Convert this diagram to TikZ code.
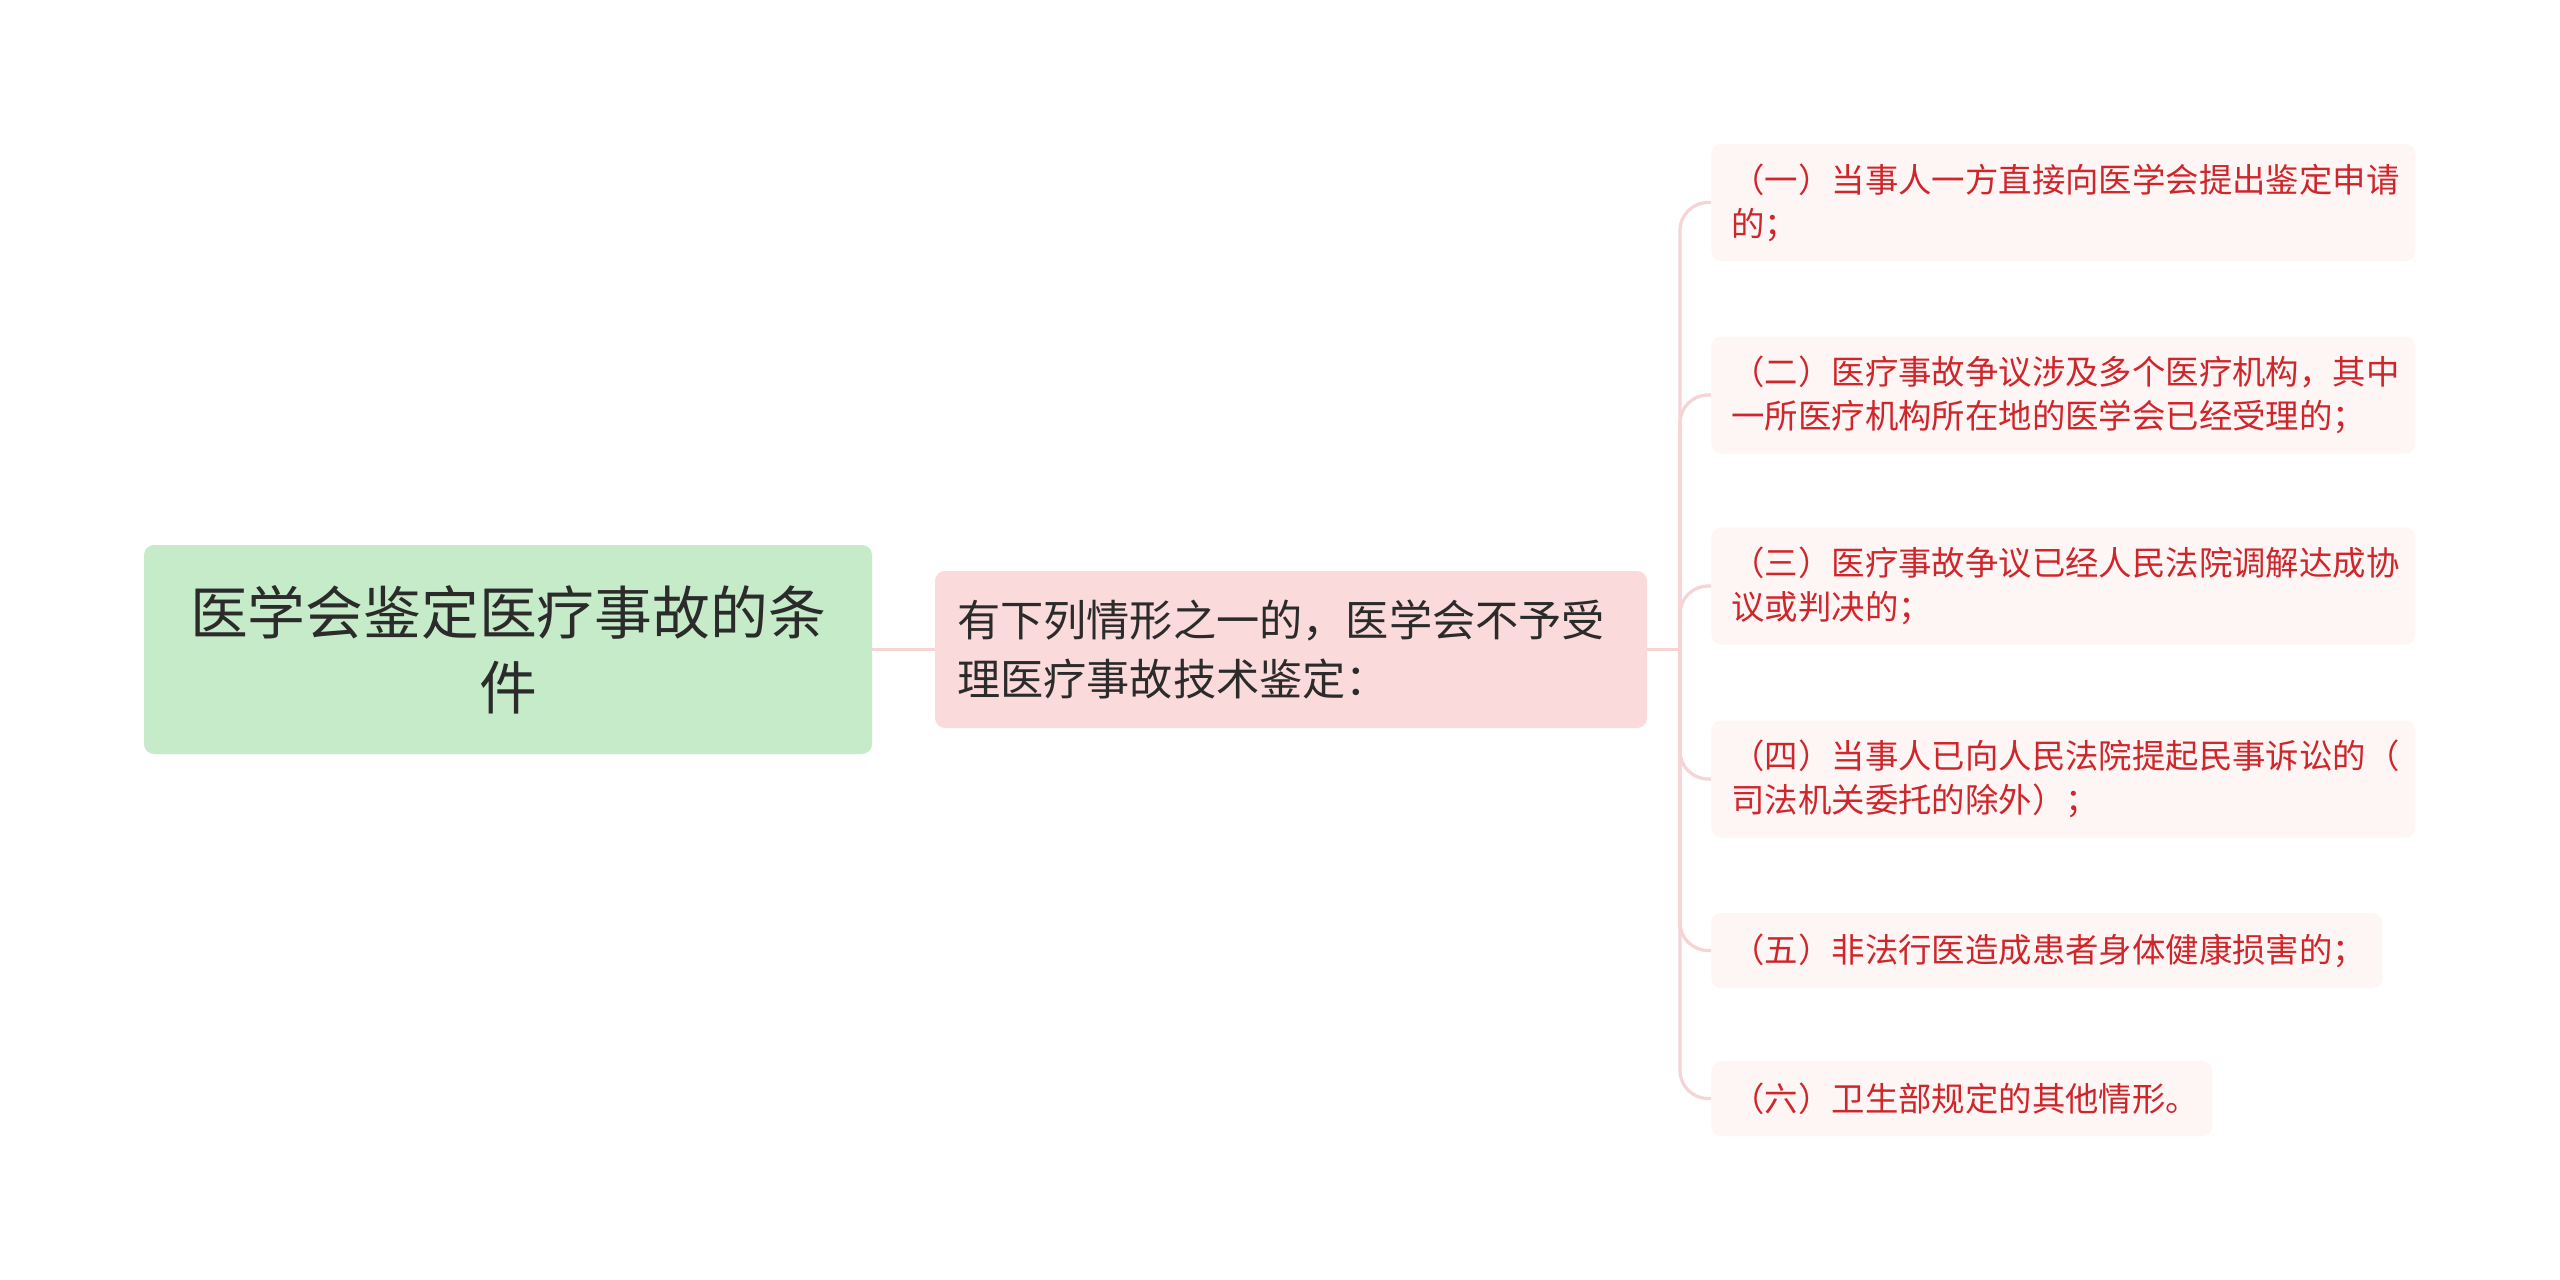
\documentclass[tikz,border=0pt]{standalone}
\usepackage{fontspec}
\newfontfamily\cjk{Noto Sans CJK SC}
\definecolor{rootfill}{HTML}{C6EBC9}
\definecolor{roottext}{HTML}{2B2B2B}
\definecolor{midfill}{HTML}{FBDADB}
\definecolor{leaffill}{HTML}{FEF5F5}
\definecolor{leaftext}{HTML}{CE262B}
\definecolor{linkcol}{HTML}{F6D3D4}
\begin{document}
\begin{tikzpicture}[x=0.5pt,y=-0.5pt,
  rootbox/.style={fill=rootfill, rounded corners=5pt, inner sep=0pt, align=center,
    minimum width=364pt, minimum height=104.5pt, text=roottext,
    font=\cjk\fontsize{28.9pt}{37.5pt}\selectfont},
  midbox/.style={fill=midfill, rounded corners=5pt, inner xsep=11pt, inner ysep=0pt,
    align=left, text width=334pt, minimum height=78.5pt, text=roottext,
    font=\cjk\fontsize{21.6pt}{29.4pt}\selectfont},
  leafbox/.style={fill=leaffill, rounded corners=5pt, inner xsep=10pt, inner ysep=0pt,
    align=left, anchor=west, text=leaftext,
    font=\cjk\fontsize{16.7pt}{22pt}\selectfont},
  link/.style={draw=linkcol, line width=1.6pt},
  buslink/.style={link, rounded corners=14pt}
]
\path[use as bounding box, fill=white] (0,0) rectangle (2560,1280);

\node[rootbox] (root) at (508,649.5) {医学会鉴定医疗事故的条\\件};
\node[midbox] (mid) at (1291,649.5) {有下列情形之一的，医学会不予受\\理医疗事故技术鉴定：};

\node[leafbox, text width=332pt, minimum height=58.5pt] (l1) at (1711,202.5)
  {（一）当事人一方直接向医学会提出鉴定申请\\的；};
\node[leafbox, text width=332pt, minimum height=58.5pt] (l2) at (1711,395)
  {（二）医疗事故争议涉及多个医疗机构，其中\\一所医疗机构所在地的医学会已经受理的；};
\node[leafbox, text width=332pt, minimum height=58.5pt] (l3) at (1711,586)
  {（三）医疗事故争议已经人民法院调解达成协\\议或判决的；};
\node[leafbox, text width=332pt, minimum height=58.5pt] (l4) at (1711,779)
  {（四）当事人已向人民法院提起民事诉讼的（\\司法机关委托的除外）；};
\node[leafbox, text width=315.5pt, minimum height=37.5pt] (l5) at (1711,950.5)
  {（五）非法行医造成患者身体健康损害的；};
\node[leafbox, text width=230.5pt, minimum height=37.5pt] (l6) at (1711,1098.5)
  {（六）卫生部规定的其他情形。};

\coordinate (bus) at (1680,649.5);
\draw[link] (root.east) -- (mid.west);
\draw[link] (mid.east) -- (bus);
\foreach \n in {l1,l2,l3,l4,l5,l6}{
  \draw[buslink] (bus) |- (\n.west);
}
\end{tikzpicture}
\end{document}
